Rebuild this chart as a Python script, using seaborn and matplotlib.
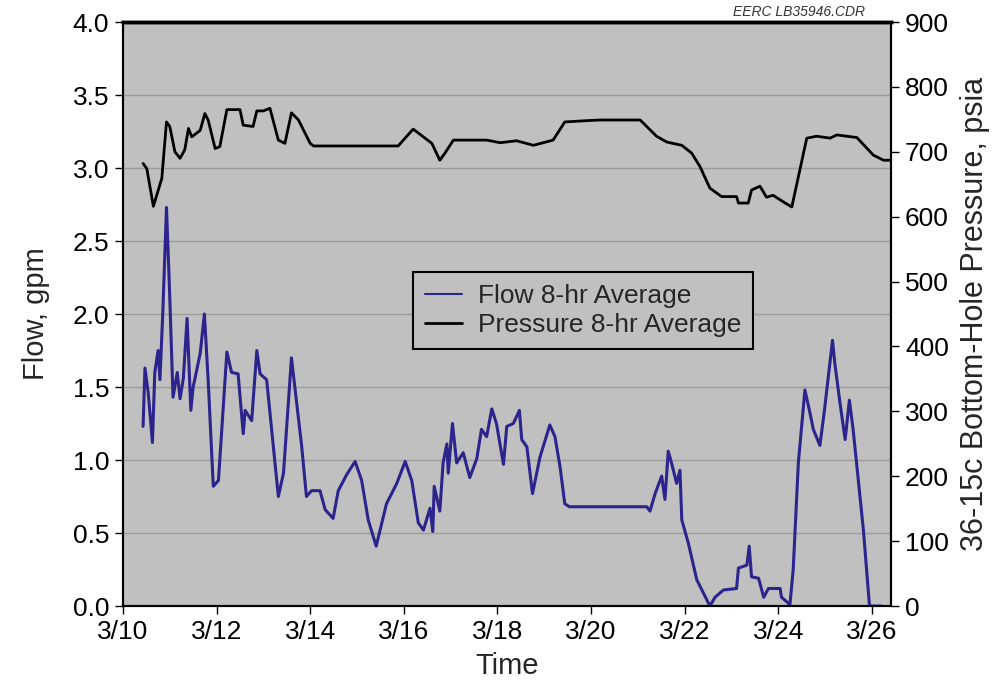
import matplotlib
matplotlib.use("Agg")
import matplotlib.pyplot as plt
from matplotlib.lines import Line2D
import numpy as np
import pandas as pd
import seaborn as sns

# Flow, 8-hr average (day of March, gpm)
flow_day = [10.43, 10.47, 10.54, 10.63, 10.68, 10.75, 10.79, 10.85, 10.93, 10.99,
            11.07, 11.16, 11.22, 11.29, 11.37, 11.45, 11.50, 11.65, 11.74, 11.82,
            11.93, 12.04, 12.22, 12.32, 12.46, 12.57, 12.61, 12.75, 12.86, 12.93,
            13.07, 13.32, 13.43, 13.60, 13.82, 13.92, 14.03, 14.21, 14.32, 14.49,
            14.60, 14.78, 14.96, 15.10, 15.24, 15.41, 15.63, 15.85, 16.03, 16.17,
            16.31, 16.42, 16.56, 16.62, 16.65, 16.77, 16.84, 16.92, 16.95, 17.04,
            17.13, 17.27, 17.41, 17.56, 17.66, 17.77, 17.88, 17.98, 18.13, 18.20,
            18.34, 18.47, 18.52, 18.63, 18.75, 18.91, 19.12, 19.23, 19.34, 19.44,
            19.54, 21.19, 21.26, 21.37, 21.51, 21.58, 21.65, 21.72, 21.83, 21.90,
            21.94, 22.08, 22.26, 22.54, 22.65, 22.83, 23.11, 23.15, 23.33, 23.38,
            23.43, 23.58, 23.69, 23.79, 24.04, 24.07, 24.25, 24.32, 24.43, 24.57,
            24.68, 24.75, 24.89, 24.98, 25.07, 25.16, 25.21, 25.32, 25.43, 25.52,
            25.60, 25.82, 25.95, 26.20]
flow_gpm = [1.23, 1.63, 1.46, 1.12, 1.60, 1.75, 1.55, 2.00, 2.73, 2.21,
            1.43, 1.60, 1.42, 1.56, 1.97, 1.34, 1.50, 1.73, 2.00, 1.55,
            0.82, 0.86, 1.74, 1.60, 1.59, 1.18, 1.34, 1.27, 1.75, 1.59,
            1.55, 0.75, 0.91, 1.70, 1.09, 0.75, 0.79, 0.79, 0.66, 0.60,
            0.79, 0.90, 0.99, 0.86, 0.59, 0.41, 0.70, 0.84, 0.99, 0.86,
            0.57, 0.52, 0.67, 0.51, 0.82, 0.65, 0.98, 1.11, 0.91, 1.25,
            0.98, 1.05, 0.88, 1.01, 1.21, 1.16, 1.35, 1.25, 0.97, 1.23,
            1.25, 1.34, 1.14, 1.09, 0.77, 1.02, 1.24, 1.16, 0.95, 0.70,
            0.68, 0.68, 0.65, 0.77, 0.89, 0.73, 1.06, 0.98, 0.84, 0.93,
            0.59, 0.43, 0.18, 0.00, 0.06, 0.11, 0.12, 0.26, 0.28, 0.41,
            0.20, 0.19, 0.06, 0.12, 0.12, 0.06, 0.01, 0.25, 0.98, 1.48,
            1.32, 1.21, 1.10, 1.32, 1.57, 1.82, 1.66, 1.39, 1.14, 1.41,
            1.21, 0.52, 0.00, 0.00]

# Bottom-hole pressure, 8-hr average (day of March, psia)
pres_day = [10.43, 10.51, 10.65, 10.83, 10.93, 11.00, 11.11, 11.22, 11.32, 11.40,
            11.47, 11.65, 11.75, 11.82, 11.97, 12.07, 12.22, 12.50, 12.57, 12.78,
            12.86, 13.00, 13.14, 13.32, 13.46, 13.60, 13.75, 14.00, 14.07, 14.92,
            15.88, 16.20, 16.60, 16.77, 16.88, 17.06, 17.77, 18.06, 18.41, 18.77,
            19.19, 19.44, 19.91, 20.19, 21.05, 21.40, 21.62, 21.94, 22.15, 22.33,
            22.54, 22.79, 23.11, 23.15, 23.36, 23.43, 23.61, 23.75, 23.89, 24.04,
            24.15, 24.29, 24.61, 24.82, 25.11, 25.25, 25.68, 26.03, 26.25, 26.40]
pres_psia = [682, 674, 616, 659, 746, 739, 700, 690, 703, 736,
             723, 733, 759, 749, 705, 708, 765, 765, 741, 739,
             763, 763, 767, 718, 713, 760, 749, 713, 709, 709,
             709, 735, 713, 687, 698, 718, 718, 714, 717, 710,
             718, 746, 748, 749, 749, 724, 715, 710, 698, 677,
             644, 631, 631, 621, 621, 641, 647, 630, 633, 626,
             621, 615, 721, 724, 721, 726, 722, 695, 687, 687]

x_ticks = [10, 12, 14, 16, 18, 20, 22, 24, 26]
x_tick_labels = ["3/10", "3/12", "3/14", "3/16", "3/18", "3/20", "3/22", "3/24", "3/26"]
flow_ticks = [0.0, 0.5, 1.0, 1.5, 2.0, 2.5, 3.0, 3.5, 4.0]
pres_ticks = [0, 100, 200, 300, 400, 500, 600, 700, 800, 900]

flow_df = pd.DataFrame({"day": flow_day, "flow": flow_gpm})
pres_df = pd.DataFrame({"day": pres_day, "pressure": pres_psia})

sns.set_style("ticks")
plt.rcParams["font.family"] = ["Liberation Sans", "DejaVu Sans"]

FLOW_COLOR = "#2c248c"
BG = "#c0c0c0"

fig = plt.figure(figsize=(9.94, 6.86), dpi=100)
ax = fig.add_axes([0.1237, 0.1166, 0.7727, 0.8513])
ax.set_facecolor(BG)
ax2 = ax.twinx()

sns.lineplot(data=flow_df, x="day", y="flow", ax=ax, color=FLOW_COLOR,
             linewidth=2.2, estimator=None, sort=False, zorder=3)
sns.lineplot(data=pres_df, x="day", y="pressure", ax=ax2, color="black",
             linewidth=2.0, estimator=None, sort=False, zorder=3)

ax.set_xlim(10, 26.41)
ax.set_ylim(0, 4.0)
ax2.set_ylim(0, 900)

ax.set_xticks(x_ticks)
ax.set_xticklabels(x_tick_labels)
ax.set_yticks(flow_ticks)
ax.set_yticklabels([f"{v:.1f}" for v in flow_ticks])
ax2.set_yticks(pres_ticks)
ax2.set_yticklabels([str(v) for v in pres_ticks])

ax.yaxis.grid(True, color="#9c9c9c", linewidth=1.0)
ax.set_axisbelow(True)

for a in (ax, ax2):
    a.tick_params(axis="both", direction="out", length=6, width=1.0,
                  labelsize=19, colors="black", pad=4)
    for s in a.spines.values():
        s.set_visible(True)
        s.set_color("black")
        s.set_linewidth(1.5)
    a.spines["top"].set_linewidth(2.5)

ax.set_xlabel("Time", fontsize=21, labelpad=6)
ax.set_ylabel("Flow, gpm", fontsize=21, labelpad=16)
ax2.set_ylabel("36-15c Bottom-Hole Pressure, psia", fontsize=22, labelpad=8)

handles = [Line2D([], [], color=FLOW_COLOR, linewidth=1.5),
           Line2D([], [], color="black", linewidth=2.0)]
leg = ax2.legend(handles, ["Flow 8-hr Average", "Pressure 8-hr Average"],
                 loc="upper left", bbox_to_anchor=(0.3776, 0.572),
                 borderaxespad=0, fontsize=19, frameon=True, fancybox=False,
                 handlelength=1.4, handletextpad=0.6, labelspacing=0.2,
                 borderpad=0.45)
frame = leg.get_frame()
frame.set_facecolor(BG)
frame.set_edgecolor("black")
frame.set_linewidth(1.5)
frame.set_alpha(1.0)

fig.text(0.870, 0.982, "EERC LB35946.CDR", ha="right", va="center",
         fontsize=10, style="italic", color="#333333")

fig.savefig("out.png", dpi=100, facecolor="white")
